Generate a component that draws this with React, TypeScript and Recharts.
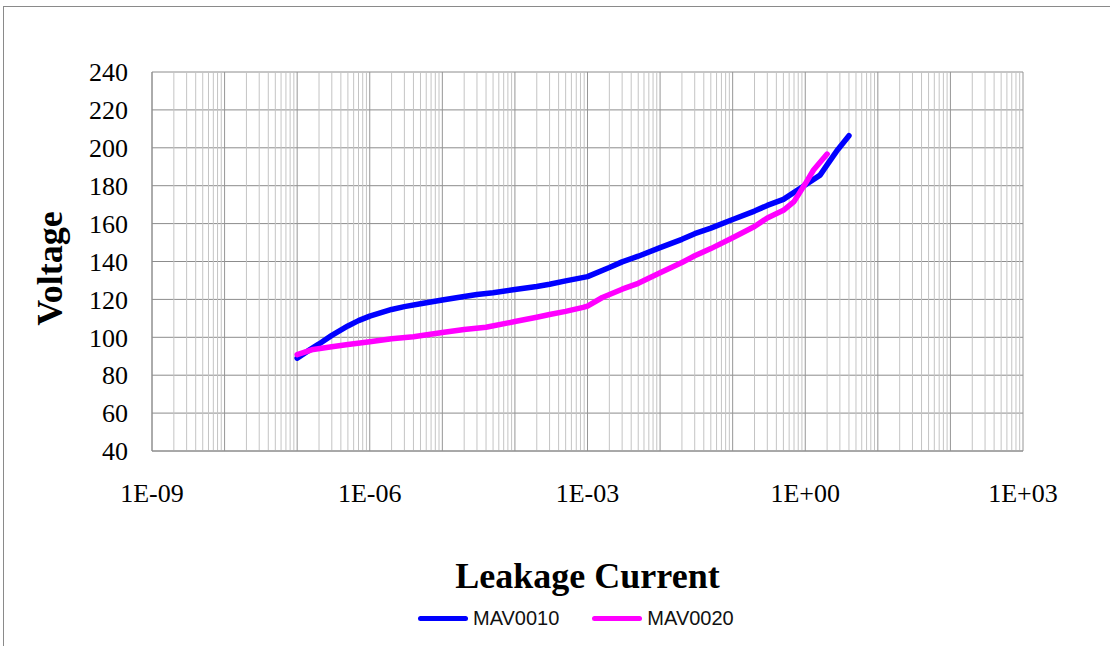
import React from 'react';
import { LineChart, Line, XAxis, YAxis, CartesianGrid, ReferenceLine, Legend, Label } from 'recharts';

// leakage current (A) vs voltage (V)
const MAV0010_I = [1e-7, 1.5e-7, 2e-7, 3e-7, 5e-7, 7e-7, 1e-6, 2e-6, 3e-6, 5e-6, 1e-5, 2e-5, 3e-5, 5e-5, 1e-4, 2e-4, 3e-4, 5e-4,
  1e-3, 2e-3, 3e-3, 5e-3, 1e-2, 2e-2, 3e-2, 5e-2, 0.1, 0.2, 0.3, 0.5, 1, 1.6, 2, 2.8, 4];
const MAV0010_V = [89, 93.5, 96.5, 101, 106, 108.8, 111.2, 114.7, 116.2, 117.7, 119.7, 121.5, 122.6, 123.5, 125.2, 126.8, 128, 129.8,
  132, 136.8, 139.8, 142.8, 147.3, 151.7, 154.7, 157.6, 162.2, 166.6, 169.6, 172.8, 180.4, 185.6, 191, 199, 206.4];

const MAV0020_I = [1e-7, 1.66e-7, 3e-7, 5e-7, 1e-6, 2e-6, 4e-6, 1e-5, 2e-5, 4e-5, 1e-4, 2e-4, 3e-4, 5e-4,
  8.7e-4, 1e-3, 1.6e-3, 3e-3, 5e-3, 1e-2, 2e-2, 3e-2, 5e-2, 0.1, 0.2, 0.3, 0.5, 0.7, 1, 1.3, 2];
const MAV0020_V = [90.8, 93.6, 95, 96.2, 97.7, 99.2, 100.3, 102.5, 104.1, 105.3, 108.3, 110.6, 112, 113.7,
  115.8, 116.5, 121, 125.4, 128.5, 134.1, 139.5, 143, 146.8, 152.5, 158.5, 163, 167, 171.6, 181, 188.3, 196.7];

const X_TICKS = [1e-9, 1e-6, 1e-3, 1, 1e3];
const Y_TICKS = [40, 60, 80, 100, 120, 140, 160, 180, 200, 220, 240];

const SERIES = [
  { name: 'MAV0010', color: '#0000ff', xs: MAV0010_I, ys: MAV0010_V },
  { name: 'MAV0020', color: '#ff00ff', xs: MAV0020_I, ys: MAV0020_V },
];

// log grid: every 1..9 inside each decade
const gridLines: { v: number; major: boolean }[] = [];
for (let d = -9; d <= 2; d++) {
  for (let k = 1; k <= 9; k++) gridLines.push({ v: Number(`${k}e${d}`), major: k === 1 });
}
gridLines.push({ v: 1e3, major: true });

const fmtExp = (v: number) => {
  const e = Math.round(Math.log10(v));
  return `1E${e < 0 ? '-' : '+'}${String(Math.abs(e)).padStart(2, '0')}`;
};

const SERIF = "'Times New Roman', 'Liberation Serif', serif";

const XTitle = ({ viewBox }: any) => (
  <text x={viewBox.x + viewBox.width / 2} y={viewBox.y + 137} textAnchor="middle"
    fontFamily={SERIF} fontWeight="bold" fontSize={36} fill="#000">
    Leakage Current
  </text>
);

const YTitle = ({ viewBox }: any) => {
  const x = viewBox.x + 10;
  const y = viewBox.y + viewBox.height / 2 + 7;
  return (
    <text x={x} y={y} transform={`rotate(-90, ${x}, ${y})`} textAnchor="middle"
      fontFamily={SERIF} fontWeight="bold" fontSize={36} fill="#000">
      Voltage
    </text>
  );
};

const LegendBox = ({ payload }: any) => (
  <div style={{ display: 'flex', alignItems: 'center', gap: 33 }}>
    {(payload || []).map((p: any) => (
      <div key={p.value} style={{ display: 'flex', alignItems: 'center', gap: 5 }}>
        <span style={{ width: 50, height: 5, borderRadius: 3, background: p.color }} />
        <span style={{ fontFamily: "'Liberation Sans', Arial, sans-serif", fontSize: 20, color: '#111' }}>{p.value}</span>
      </div>
    ))}
  </div>
);

export default function App() {
  return (
    <div style={{ position: 'absolute', left: 0, top: 0, width: 1110, height: 646, background: '#fff', overflow: 'hidden' }}>
      <div style={{ position: 'absolute', left: 3, top: 6, width: 1200, height: 700, borderLeft: '1px solid #8a8a8a', borderTop: '1px solid #8a8a8a' }} />
      <LineChart width={1110} height={646} margin={{ top: 72, right: 87, bottom: 45, left: 52 }}>
        <CartesianGrid horizontal vertical={false} stroke="#8c8c8c" />
        {gridLines.map((g) => (
          <ReferenceLine key={g.v} x={g.v} stroke={g.major ? '#969696' : '#c4c4c4'} strokeWidth={1} />
        ))}
        <XAxis
          type="number"
          dataKey="i"
          scale="log"
          domain={[1e-9, 1e3]}
          allowDataOverflow
          ticks={X_TICKS}
          tickFormatter={fmtExp}
          height={150}
          tickSize={0}
          tickMargin={33}
          axisLine={{ stroke: '#8c8c8c' }}
          tick={{ fill: '#000', fontSize: 26, fontFamily: SERIF }}
        >
          <Label content={XTitle} />
        </XAxis>
        <YAxis
          type="number"
          domain={[40, 240]}
          ticks={Y_TICKS}
          width={100}
          tickSize={0}
          tickMargin={24}
          axisLine={{ stroke: '#8c8c8c' }}
          tick={{ fill: '#000', fontSize: 26, fontFamily: SERIF }}
        >
          <Label content={YTitle} />
        </YAxis>
        <Legend
          layout="vertical"
          align="center"
          verticalAlign="middle"
          content={LegendBox}
          wrapperStyle={{ left: 418, top: 607, width: 'auto', height: 28 }}
        />
        {SERIES.map((s) => (
          <Line
            key={s.name}
            name={s.name}
            data={s.xs.map((x, k) => ({ i: x, v: s.ys[k] }))}
            dataKey="v"
            stroke={s.color}
            strokeWidth={5.5}
            strokeLinejoin="round"
            strokeLinecap="round"
            dot={false}
            activeDot={false}
            isAnimationActive={false}
          />
        ))}
      </LineChart>
    </div>
  );
}
